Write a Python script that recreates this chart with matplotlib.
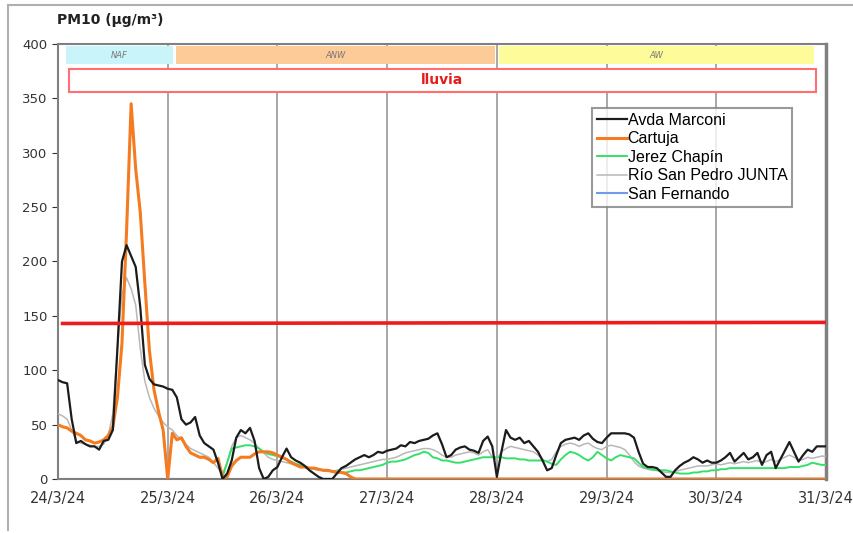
import numpy as np
import matplotlib
matplotlib.use("Agg")
import matplotlib.pyplot as plt
from matplotlib.patches import Rectangle
from matplotlib.lines import Line2D

plt.rcParams['font.family'] = ['DejaVu Sans']

# ── Data (hourly, 24/3/24 00:00 -> 31/3/24 00:00) ─────────────────
day_labels = ["24/3/24", "25/3/24", "26/3/24", "27/3/24",
              "28/3/24", "29/3/24", "30/3/24", "31/3/24"]
hours = np.arange(169)

avda_marconi = [
    91, 89, 88, 55, 33, 35, 32, 30, 30, 27, 35, 36, 45, 120, 200, 215, 205, 195, 158, 105,
    92, 87, 86, 85, 83, 82, 75, 55, 50, 52, 57, 40, 33, 30, 27, 15, 0, 5, 17, 38,
    45, 42, 47, 35, 10, 0, 2, 8, 11, 20, 28, 20, 17, 15, 12, 8, 5, 2, 0, 0,
    0, 5, 10, 12, 15, 18, 20, 22, 20, 22, 25, 24, 26, 27, 28, 31, 30, 34, 33, 35,
    36, 37, 40, 42, 32, 20, 22, 27, 29, 30, 27, 26, 24, 35, 39, 30, 2, 25, 45, 38,
    36, 38, 33, 35, 30, 25, 17, 8, 10, 22, 33, 36, 37, 38, 36, 40, 42, 37, 34, 33,
    38, 42, 42, 42, 42, 41, 38, 25, 14, 11, 11, 10, 6, 2, 2, 8, 12, 15, 17, 20,
    18, 15, 17, 15, 15, 17, 20, 24, 16, 20, 24, 18, 20, 24, 13, 22, 25, 10, 18, 26,
    34, 25, 16, 22, 27, 25, 30, 30, 30]

cartuja = [
    50, 48, 47, 44, 42, 40, 36, 35, 33, 34, 36, 40, 48, 75, 125, 228, 345, 285, 245, 180,
    118, 82, 62, 45, 0, 42, 36, 38, 30, 24, 22, 20, 20, 18, 15, 19, 2, 2, 12, 17,
    20, 20, 20, 23, 25, 25, 25, 24, 22, 20, 18, 15, 13, 11, 11, 10, 10, 9, 8, 8,
    7, 6, 6, 5, 2, 0, 0, 0, 0, 0, 0, 0, 0, 0, 0, 0, 0, 0, 0, 0,
    0, 0, 0, 0, 0, 0, 0, 0, 0, 0, 0, 0, 0, 0, 0, 0, 0, 0, 0, 0,
    0, 0, 0, 0, 0, 0, 0, 0, 0, 0, 0, 0, 0, 0, 0, 0, 0, 0, 0, 0,
    0, 0, 0, 0, 0, 0, 0, 0, 0, 0, 0, 0, 0, 0, 0, 0, 0, 0, 0, 0,
    0, 0, 0, 0, 0, 0, 0, 0, 0, 0, 0, 0, 0, 0, 0, 0, 0, 0, 0, 0,
    0, 0, 0, 0, 0, 0, 0, 0, 0]

jerez_chapin = [
    None, None, None, None, None, None, None, None, None, None, None, None,
    None, None, None, None, None, None, None, None, None, None, None, None,
    None, None, None, None, None, None, None, None, None, None, None, None,
    2, 15, 28, 29, 30, 31, 31, 30, 28, 25, 23, 22, 21, 20, 18, 16, 14, 13, 11, 10,
    10, 9, 8, 8, 7, 7, 6, 6, 7, 8, 8, 9, 10, 11, 12, 13, 15, 16, 16, 17,
    18, 20, 22, 23, 25, 24, 20, 19, 17, 17, 16, 15, 15, 16, 17, 18, 19, 20, 20, 20,
    20, 20, 19, 19, 19, 18, 18, 17, 17, 17, 17, 16, 14, 13, 18, 22, 25, 24, 22, 19,
    17, 20, 25, 22, 19, 17, 20, 22, 21, 20, 19, 15, 11, 10, 9, 8, 8, 8, 7, 6,
    5, 5, 5, 6, 6, 7, 7, 8, 8, 9, 9, 10, 10, 10, 10, 10, 10, 10, 10, 10,
    10, 10, 10, 10, 11, 11, 11, 12, 13, 15, 14, 13, 13]

rio_san_pedro = [
    60, 58, 55, 45, 35, 33, 32, 31, 30, 30, 32, 40, 60, 120, 170, 185, 175, 160, 120, 90,
    75, 65, 58, 52, 48, 45, 40, 36, 32, 28, 26, 24, 22, 20, 15, 10, 5, 15, 30, 38,
    40, 38, 36, 33, 28, 24, 20, 18, 17, 16, 15, 14, 13, 12, 11, 10, 9, 8, 8, 7,
    7, 8, 9, 10, 11, 12, 13, 14, 15, 16, 17, 18, 18, 19, 20, 22, 24, 25, 26, 27,
    28, 28, 27, 25, 22, 20, 20, 22, 23, 24, 25, 24, 22, 25, 27, 20, 18, 25, 28, 30,
    29, 28, 27, 26, 25, 22, 18, 16, 18, 25, 30, 32, 33, 32, 30, 32, 33, 30, 28, 27,
    30, 31, 30, 29, 27, 22, 16, 12, 10, 9, 8, 8, 7, 6, 6, 7, 8, 9, 10, 11,
    12, 12, 12, 13, 14, 13, 14, 15, 14, 15, 16, 15, 16, 17, 15, 16, 18, 16, 18, 20,
    22, 20, 17, 18, 20, 19, 20, 21, 21]

san_fernando = [0] * 169

threshold = 143

# synoptic bands (start hour, end hour, label, colour)
band_start = [1.8, 25.8, 96.4]
band_end = [25.2, 95.5, 165.4]
band_label = ["NAF", "ANW", "AW"]
band_color = ["#c8f4fa", "#fccb98", "#fdfb9a"]
rain_start, rain_end = 2.4, 165.8

# ── Plot ──────────────────────────────────────────────────────────
fig = plt.figure(figsize=(8.54, 5.34), dpi=100)
ax = fig.add_axes([0.0679, 0.103, 0.8993, 0.8147])

ax.plot(hours, san_fernando, color="#6f9be8", lw=1.5, label="San Fernando", zorder=2)
ax.plot(hours, np.array(rio_san_pedro, dtype=float), color="#b8b8b8", lw=1.1,
        label="Río San Pedro JUNTA", zorder=3)
ax.plot(hours, np.array(jerez_chapin, dtype=float), color="#35e06a", lw=1.4,
        label="Jerez Chapín", zorder=4)
ax.plot(hours, cartuja, color="#f47b20", lw=2.2, label="Cartuja", zorder=5)
ax.plot(hours, avda_marconi, color="#1c1c1c", lw=1.6, label="Avda Marconi", zorder=6)

ax.plot([1, 168], [threshold, threshold + 1], color="#ee1c1c", lw=2.6, zorder=7)

# bands
for s, e, lab, c in zip(band_start, band_end, band_label, band_color):
    ax.add_patch(Rectangle((s, 381.5), e - s, 16.5, facecolor=c, edgecolor="none", zorder=8))
    ax.text((s + e) / 2, 389.5, lab, ha="center", va="center", fontsize=6,
            color="#777777", style="italic", zorder=9)
ax.add_patch(Rectangle((rain_start, 356), rain_end - rain_start, 21, facecolor="white",
                       edgecolor="#ff6f6f", lw=1.5, zorder=8))
ax.text((rain_start + rain_end) / 2, 366.5, "lluvia", ha="center", va="center",
        fontsize=10, fontweight="bold", color="#e41c1c", zorder=9)

ax.set_xlim(0, 168)
ax.set_ylim(0, 400)
ax.set_xticks(np.arange(0, 169, 24))
ax.set_xticklabels(day_labels, fontsize=10.5, color="#333333")
ax.set_yticks(np.arange(0, 401, 50))
ax.tick_params(axis="y", labelsize=9.5, colors="#333333", length=4, direction="out")
ax.tick_params(axis="x", length=0, pad=9)
ax.grid(axis="x", color="#a0a0a0", lw=1.3, zorder=1)
for sp in ax.spines.values():
    sp.set_color("#808080")
    sp.set_linewidth(1.5)
ax.spines["right"].set_linewidth(2.5)

h, l = ax.get_legend_handles_labels()
order = [4, 3, 2, 1, 0]
leg = ax.legend([h[i] for i in order], [l[i] for i in order], loc="upper left",
                bbox_to_anchor=(0.695, 0.853), frameon=True, fancybox=False,
                prop={"family": ["Liberation Sans"], "size": 11.5},
                handlelength=1.9, handletextpad=0.05, borderpad=0.3, labelspacing=0.22,
                borderaxespad=0)
leg.get_frame().set_edgecolor("#808080")
leg.get_frame().set_linewidth(1.5)
leg.set_zorder(10)

fig.text(0.067, 0.962, "PM10 (µg/m³)", fontsize=10, fontweight="bold", color="#222222",
         va="center")

# outer frame of the chart area
fig.add_artist(Line2D([0.0094, 1.0], [0.9906, 0.9906], color="#b0b0b0", lw=1.5))
fig.add_artist(Line2D([0.0094, 0.0094], [0.0075, 0.9906], color="#b0b0b0", lw=1.5))

fig.savefig("out.png", dpi=100)
